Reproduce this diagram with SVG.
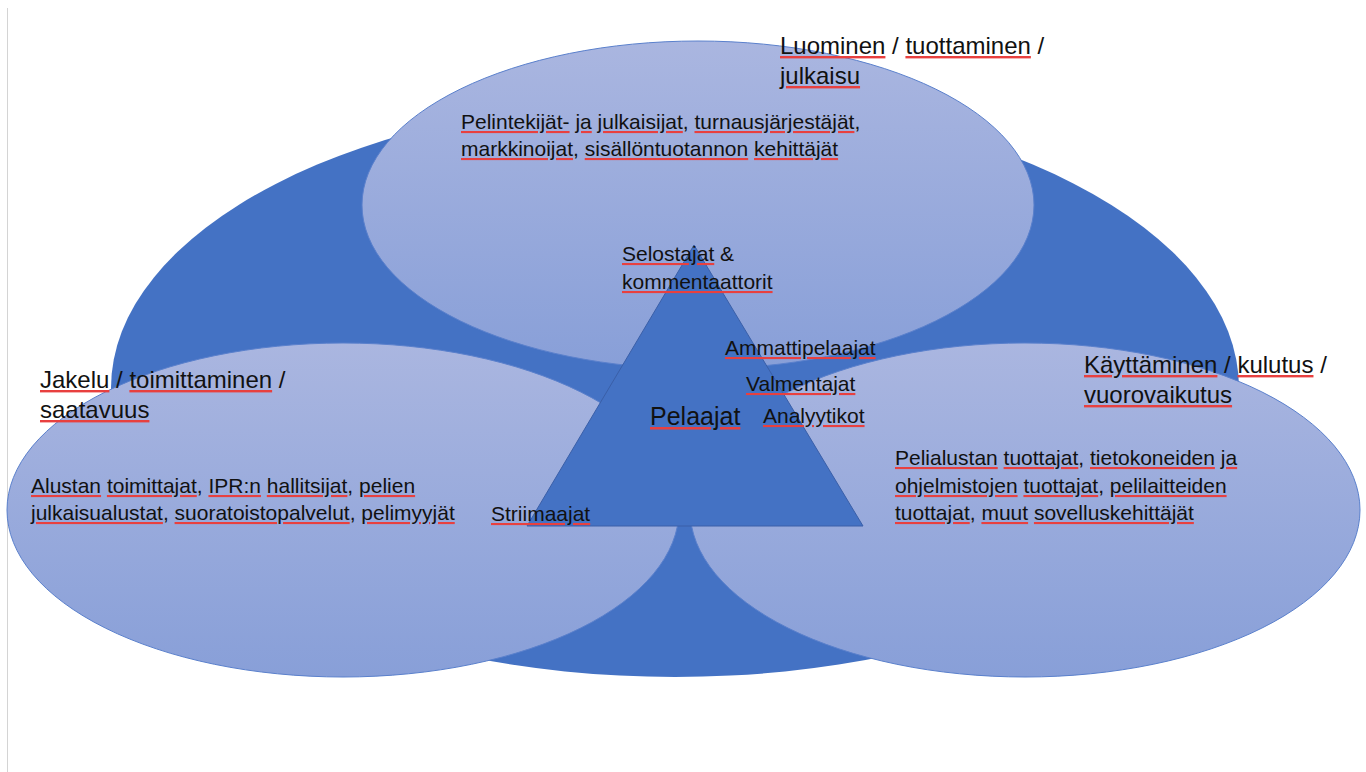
<svg xmlns="http://www.w3.org/2000/svg" width="1366" height="772" viewBox="0 0 1366 772">
<defs>
<linearGradient id="lg" x1="0" y1="0" x2="0" y2="1">
<stop offset="0" stop-color="#AAB6E0"/>
<stop offset="1" stop-color="#889FD8"/>
</linearGradient>
<style>
.light{fill:url(#lg);stroke:#5A80CC;stroke-width:1}
.dark{fill:#4472C4}
.t{font-family:"Liberation Sans",Arial,sans-serif;fill:#111}
.h{font-size:24px}
.b{font-size:21px}
.u{fill:#E8403F;text-decoration:underline wavy;text-decoration-thickness:1px}
.u tspan{fill:#111}
</style>
</defs>
<rect width="1366" height="772" fill="#fff"/>
<line x1="7.5" y1="8" x2="7.5" y2="772" stroke="#D4D4D4" stroke-width="1"/>
<g id="background">
<ellipse class="dark" cx="675" cy="388" rx="564" ry="289"/>
</g>
<g id="luominen">
<ellipse class="light" cx="698" cy="205" rx="336" ry="164"/>
<text class="t h" x="780" y="54"><tspan class="u"><tspan>Luominen</tspan></tspan> / <tspan class="u"><tspan>tuottaminen</tspan></tspan> /</text>
<text class="t h" x="780" y="84"><tspan class="u"><tspan>julkaisu</tspan></tspan></text>
<text class="t b" x="461" y="129"><tspan class="u"><tspan>Pelintekijät-</tspan></tspan> <tspan class="u"><tspan>ja</tspan></tspan> <tspan class="u"><tspan>julkaisijat</tspan></tspan>, <tspan class="u"><tspan>turnausjärjestäjät</tspan></tspan>,</text>
<text class="t b" x="461" y="156"><tspan class="u"><tspan>markkinoijat</tspan></tspan>, <tspan class="u"><tspan>sisällöntuotannon</tspan></tspan> <tspan class="u"><tspan>kehittäjät</tspan></tspan></text>
</g>
<g id="jakelu">
<ellipse class="light" cx="343" cy="510" rx="336" ry="167"/>
<text class="t h" x="40" y="388"><tspan class="u"><tspan>Jakelu</tspan></tspan> / <tspan class="u"><tspan>toimittaminen</tspan></tspan> /</text>
<text class="t h" x="40" y="418"><tspan class="u"><tspan>saatavuus</tspan></tspan></text>
<text class="t b" x="31" y="493"><tspan class="u"><tspan>Alustan</tspan></tspan> <tspan class="u"><tspan>toimittajat</tspan></tspan>, <tspan class="u"><tspan>IPR:n</tspan></tspan> <tspan class="u"><tspan>hallitsijat</tspan></tspan>, <tspan class="u"><tspan>pelien</tspan></tspan></text>
<text class="t b" x="31" y="520"><tspan class="u"><tspan>julkaisualustat</tspan></tspan>, <tspan class="u"><tspan>suoratoistopalvelut</tspan></tspan>, <tspan class="u"><tspan>pelimyyjät</tspan></tspan></text>
</g>
<g id="kayttaminen">
<ellipse class="light" cx="1025" cy="510" rx="335" ry="167"/>
<text class="t h" x="1084" y="373"><tspan class="u"><tspan>Käyttäminen</tspan></tspan> / <tspan class="u"><tspan>kulutus</tspan></tspan> /</text>
<text class="t h" x="1084" y="403"><tspan class="u"><tspan>vuorovaikutus</tspan></tspan></text>
<text class="t b" x="895" y="465"><tspan class="u"><tspan>Pelialustan</tspan></tspan> <tspan class="u"><tspan>tuottajat</tspan></tspan>, <tspan class="u"><tspan>tietokoneiden</tspan></tspan> <tspan class="u"><tspan>ja</tspan></tspan></text>
<text class="t b" x="895" y="493"><tspan class="u"><tspan>ohjelmistojen</tspan></tspan> <tspan class="u"><tspan>tuottajat</tspan></tspan>, <tspan class="u"><tspan>pelilaitteiden</tspan></tspan></text>
<text class="t b" x="895" y="520"><tspan class="u"><tspan>tuottajat</tspan></tspan>, <tspan class="u"><tspan>muut</tspan></tspan> <tspan class="u"><tspan>sovelluskehittäjät</tspan></tspan></text>
</g>
<g id="pelaajat">
<polygon points="694,245 527,526 863,526" fill="#4472C4" stroke="#3A5FA8" stroke-width="1"/>
<text class="t" font-size="25" x="650" y="425"><tspan class="u"><tspan>Pelaajat</tspan></tspan></text>
</g>
<g id="roolit">
<text class="t b" x="622" y="261"><tspan class="u"><tspan>Selostajat</tspan></tspan> &amp;</text>
<text class="t b" x="622" y="289"><tspan class="u"><tspan>kommentaattorit</tspan></tspan></text>
<text class="t b" x="725" y="355"><tspan class="u"><tspan>Ammattipelaajat</tspan></tspan></text>
<text class="t b" x="746" y="391"><tspan class="u"><tspan>Valmentajat</tspan></tspan></text>
<text class="t b" x="763" y="423"><tspan class="u"><tspan>Analyytikot</tspan></tspan></text>
<text class="t b" x="491" y="521"><tspan class="u"><tspan>Striimaajat</tspan></tspan></text>
</g>
</svg>
